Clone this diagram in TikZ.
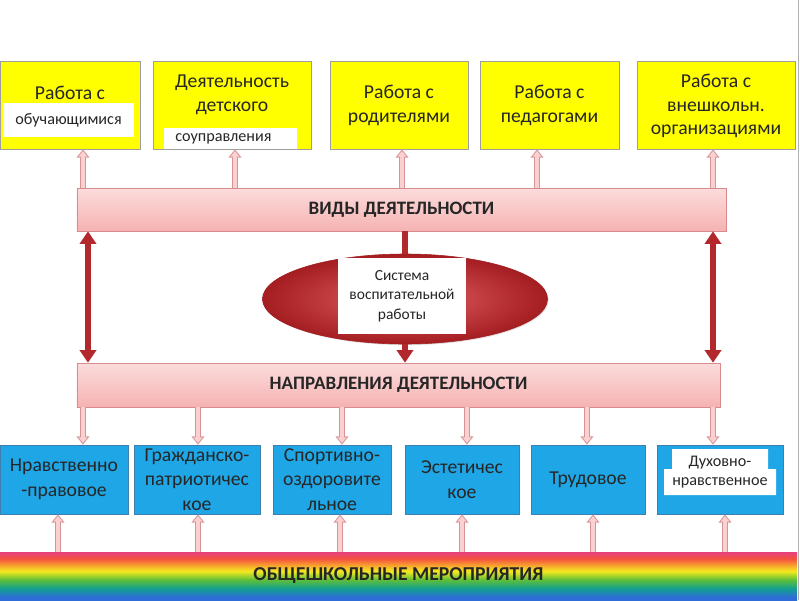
\documentclass[tikz,border=0pt]{standalone}
\usepackage{fontspec}
\setmainfont{Carlito}
\usetikzlibrary{shapes.geometric,arrows.meta,shadows}

\definecolor{boxyellow}{HTML}{FFFF00}
\definecolor{boxedge}{HTML}{9E9E9E}
\definecolor{dirblue}{HTML}{1EA6E6}
\definecolor{diredge}{HTML}{3E7FB0}
\definecolor{barlight}{HTML}{FCDCDC}
\definecolor{bardark}{HTML}{F6B2B2}
\definecolor{baredge}{HTML}{D98A8C}
\definecolor{arrowfill}{HTML}{FAD0D0}
\definecolor{arrowedge}{HTML}{D69494}
\definecolor{darkred}{HTML}{B2282C}
\definecolor{sysinner}{HTML}{E46262}
\definecolor{sysouter}{HTML}{A41D21}
\definecolor{inktext}{HTML}{262626}
\definecolor{rbblue}{HTML}{2E6CD8}
\definecolor{rbteal}{HTML}{12A08E}
\definecolor{rbgreen}{HTML}{5DBE3A}
\definecolor{rbyellow}{HTML}{F4EA1E}
\definecolor{rborange}{HTML}{F8A62E}
\definecolor{rbred}{HTML}{F4523E}
\definecolor{rbpink}{HTML}{E6407E}

\pgfdeclareverticalshading{rainbowband}{100bp}{color(0bp)=(rbblue); color(28bp)=(rbblue); color(37bp)=(rbteal); color(46bp)=(rbgreen); color(55bp)=(rbyellow); color(61bp)=(rborange); color(68bp)=(rbred); color(75bp)=(rbpink); color(100bp)=(rbpink)}

\tikzset{
  softshadow/.style={drop shadow={shadow xshift=0.8pt,shadow yshift=-0.8pt,opacity=0.25}},
  topbox/.style={draw=boxedge, fill=boxyellow, softshadow, minimum height=2.2cm, inner sep=0pt},
  dirbox/.style={draw=diredge, fill=dirblue, softshadow, minimum height=1.725cm, inner sep=0pt,
    align=center, text=inktext, font=\fontsize{14}{17.5}\selectfont},
  boxtext/.style={align=center, text=inktext, inner sep=0pt, font=\fontsize{14}{17}\selectfont},
  whitelabel/.style={fill=white, inner sep=0pt, text=inktext, font=\fontsize{11.5}{14}\selectfont},
  barbox/.style={draw=baredge, top color=barlight, bottom color=bardark, softshadow, inner sep=0pt,
    text=inktext, font=\fontsize{13.5}{16}\selectfont\bfseries},
  sysoval/.style={ellipse, draw=sysouter, inner color=sysinner, outer color=sysouter, softshadow,
    minimum width=7.125cm, minimum height=2.25cm, inner sep=0pt},
  sysbox/.style={fill=white, minimum width=3.2cm, minimum height=1.9cm, inner sep=0pt, align=center,
    text=inktext, font=\fontsize{11}{14}\selectfont},
  hollow/.style={preaction={draw=arrowedge, line width=4.2pt, shorten >=0pt,
      -{Triangle[width=9pt,length=6pt]}},
    draw=arrowfill, line width=2.8pt, shorten >=1.17pt, -{Triangle[width=6.2pt,length=4.1pt]}},
  redarrow/.style={draw=darkred, line width=4pt, >={Triangle[width=11.5pt,length=9pt]}}
}

\begin{document}
\begin{tikzpicture}[x=0.025cm,y=-0.025cm]
\useasboundingbox (0,0) rectangle (800,600);

% who the work is done with
\node[topbox, minimum width=3.5cm] (b1) at (70,105) {};
\node[boxtext] (b1t) at (70,93) {Работа с};
\node[whitelabel, minimum width=3.275cm, minimum height=0.85cm] (b1l) at (68.5,120) {обучающимися};

\node[topbox, minimum width=3.95cm] (b2) at (232,105) {};
\node[boxtext] (b2t) at (232,94.5) {Деятельность\\детского};
\node[whitelabel, minimum width=3.325cm, minimum height=0.525cm] (b2l) at (230.5,138.5) {};
\node[whitelabel, anchor=west] (b2s) at (175,138.5) {соуправления};

\node[topbox, minimum width=3.45cm] (b3) at (399,105) {};
\node[boxtext] (b3t) at (399,105) {Работа с\\родителями};

\node[topbox, minimum width=3.475cm] (b4) at (549.5,105) {};
\node[boxtext] (b4t) at (549.5,105) {Работа с\\педагогами};

\node[topbox, minimum width=3.95cm] (b5) at (716,105) {};
\node[boxtext] (b5t) at (716,106) {Работа с\\внешкольн.\\организациями};

% the two bars and the centre
\node[barbox, minimum width=16.225cm, minimum height=1.075cm] (vid) at (401.5,209.5) {ВИДЫ ДЕЯТЕЛЬНОСТИ};

\node[sysoval] (sys) at (405,299) {};
\node[sysbox] (syst) at (402,296) {Система\\воспитательной\\работы};

\node[barbox, minimum width=16.075cm, minimum height=1.1cm] (nap) at (398.5,385) {НАПРАВЛЕНИЯ ДЕЯТЕЛЬНОСТИ};

% directions
\node[dirbox, minimum width=3.2cm] (d1) at (64,479.5) {Нравственно\\-правовое};
\node[dirbox, minimum width=3.15cm] (d2) at (197,479.5) {Гражданско-\\патриотичес\\кое};
\node[dirbox, minimum width=2.95cm] (d3) at (332,479.5) {Спортивно-\\оздоровите\\льное};
\node[dirbox, minimum width=2.85cm] (d4) at (462,479.5) {Эстетичес\\кое};
\node[dirbox, minimum width=2.85cm] (d5) at (588,479.5) {Трудовое};
\node[dirbox, minimum width=3.15cm] (d6) at (720,479.5) {};
\fill[white] (672,449) -- (768,449) -- (768,469) -- (776,469) -- (776,495)
  -- (664,495) -- (664,469) -- (672,469) -- cycle;
\node[whitelabel] (d6a) at (720,463) {Духовно-};
\node[whitelabel] (d6b) at (720,483) {нравственное};

% school-wide events
\node[shading=rainbowband, minimum width=19.925cm, minimum height=1.2cm, inner sep=0pt,
  text=inktext, font=\fontsize{14}{16}\selectfont\bfseries] (all) at (398.5,576) {ОБЩЕШКОЛЬНЫЕ МЕРОПРИЯТИЯ};

% connectors
\foreach \b/\x in {b1/83,b2/235,b3/402,b4/537,b5/713}
  \draw[hollow] (vid.north -| \x,0) -- (\b.south -| \x,0);
\foreach \d/\x in {d1/83,d2/198,d3/342,d4/467,d5/587,d6/713}
  \draw[hollow] (nap.south -| \x,0) -- (\d.north -| \x,0);
\foreach \d/\x in {d1/58,d2/198,d3/340,d4/462,d5/593,d6/725}
  \draw[hollow] (all.north -| \x,0) -- (\d.south -| \x,0);

\draw[redarrow, <->] (vid.south -| 88,0) -- (nap.north -| 88,0);
\draw[redarrow, <->] (vid.south -| 713,0) -- (nap.north -| 713,0);
\draw[redarrow] (vid.south -| sys.north) -- (sys.north);
\draw[redarrow, ->] (sys.south) -- (nap.north -| sys.south);

\draw[gray!60, line width=0.5pt] (798,0) -- (798,600);

\end{tikzpicture}
\end{document}
